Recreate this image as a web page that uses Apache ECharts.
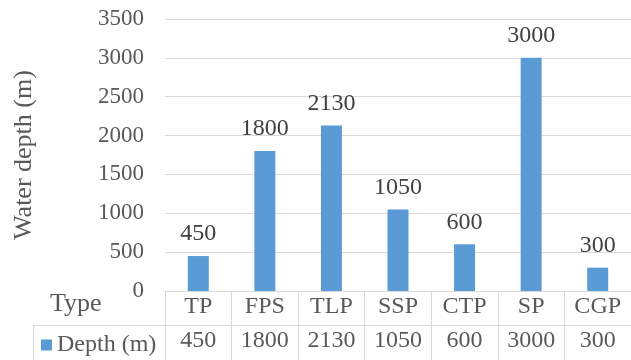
<!DOCTYPE html>
<html>
<head>
<meta charset="utf-8">
<script src="https://cdn.jsdelivr.net/npm/echarts@6/dist/echarts.min.js"></script>
<style>
  html, body { margin: 0; padding: 0; background: #fff; }
  #chart { width: 631px; height: 360px; }
</style>
</head>
<body>
<div id="chart"></div>
<script>
// Platform types and their operating water depths
const types = ['TP', 'FPS', 'TLP', 'SSP', 'CTP', 'SP', 'CGP'];
const depths = [450, 1800, 2130, 1050, 600, 3000, 300];
const seriesName = 'Depth (m)';
const rowHeader = 'Type';
const yTitle = 'Water depth (m)';
const yMin = 0, yMax = 3500, yStep = 500;

const FONT = 'Liberation Serif';
const GRID_COLOR = '#D9D9D9';
const BAR_COLOR = '#5B9BD5';

const chart = echarts.init(document.getElementById('chart'), null, { renderer: 'canvas' });

chart.setOption({
  animation: false,
  textStyle: { fontFamily: FONT },
  grid: { left: 165, right: 0, top: 19, bottom: 69, containLabel: false },
  legend: {
    data: [seriesName],
    left: 36,
    top: 328,
    icon: 'rect',
    itemWidth: 11,
    itemHeight: 11,
    itemGap: 0,
    textStyle: { fontFamily: FONT, fontSize: 24, color: '#595959', padding: [0, 0, 0, 0] },
    selectedMode: false
  },
  xAxis: [
    {
      // data table: header row with the platform types
      type: 'category',
      data: types,
      position: 'bottom',
      axisLine: { show: true, lineStyle: { color: GRID_COLOR, width: 1 } },
      axisTick: { show: true, length: 69, lineStyle: { color: GRID_COLOR, width: 1 } },
      axisLabel: { fontFamily: FONT, fontSize: 24, color: '#595959', margin: 4, interval: 0 },
      splitLine: { show: false }
    },
    {
      // data table: value row
      type: 'category',
      data: depths.map(String),
      position: 'bottom',
      offset: 34,
      axisLine: { show: true, lineStyle: { color: GRID_COLOR, width: 1 } },
      axisTick: { show: false },
      axisLabel: { fontFamily: FONT, fontSize: 24, color: '#595959', margin: 4, interval: 0 },
      splitLine: { show: false }
    }
  ],
  yAxis: {
    type: 'value',
    min: yMin,
    max: yMax,
    interval: yStep,
    name: yTitle,
    nameLocation: 'middle',
    nameRotate: 90,
    nameGap: 128,
    nameTextStyle: { fontFamily: FONT, fontSize: 26, color: '#595959' },
    axisLine: { show: false },
    axisTick: { show: false },
    axisLabel: {
      fontFamily: FONT,
      fontSize: 23,
      color: '#595959',
      margin: 21,
      formatter: (v) => String(v)
    },
    splitLine: { show: true, lineStyle: { color: GRID_COLOR, width: 1 } }
  },
  graphic: [
    {
      type: 'text',
      left: 50,
      top: 291,
      style: { text: rowHeader, font: '26px "Liberation Serif"', fill: '#595959' }
    },
    {
      type: 'line',
      shape: { x1: 33, y1: 325.5, x2: 165, y2: 325.5 },
      style: { stroke: GRID_COLOR, lineWidth: 1 }
    },
    {
      type: 'line',
      shape: { x1: 33.5, y1: 325, x2: 33.5, y2: 360 },
      style: { stroke: GRID_COLOR, lineWidth: 1 }
    }
  ],
  series: [
    {
      name: seriesName,
      type: 'bar',
      data: depths,
      barWidth: 21,
      itemStyle: { color: BAR_COLOR },
      label: {
        show: true,
        position: 'top',
        distance: 10,
        fontFamily: FONT,
        fontSize: 24,
        color: '#404040'
      }
    }
  ]
});
</script>
</body>
</html>
